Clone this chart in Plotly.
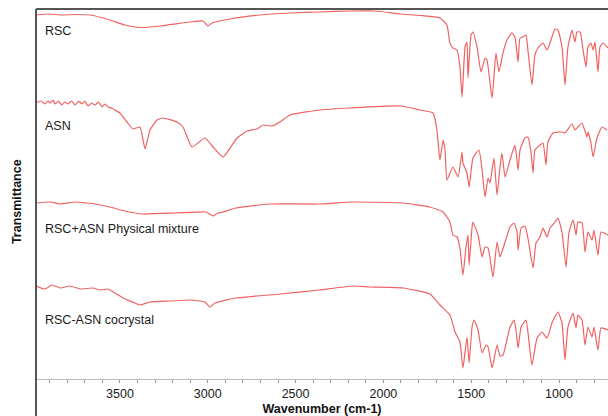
import plotly.graph_objects as go

# ---- data (wavenumber in cm-1, offset transmittance in arbitrary units) ----
rsc_wn = [3978, 3898, 3841, 3756, 3670, 3557, 3472, 3386, 3272, 3101, 3027, 2999, 2976, 2874, 2703,
          2532, 2361, 2190, 2048, 1905, 1791, 1678, 1638, 1621, 1604, 1581, 1564, 1552, 1535, 1524,
          1518, 1501, 1490, 1467, 1444, 1421, 1410, 1381, 1359, 1342, 1319, 1296, 1268, 1251, 1233,
          1222, 1205, 1188, 1177, 1154, 1137, 1120, 1091, 1068, 1040, 1023, 1006, 983, 966, 949,
          926, 909, 898, 880, 863, 846, 835, 818, 806, 795, 778, 767, 749, 721]
rsc_t = [364, 365, 364, 364.5, 364, 359, 354, 351.5, 353, 357, 358, 353, 356, 360, 364,
         366, 367, 368, 368, 365, 363.5, 361, 354, 336, 331, 329, 312, 282, 332, 337,
         301, 344, 347, 332, 307, 321, 319, 281, 326, 307, 326, 339, 346, 342, 317,
         341, 342, 344, 329, 294, 324, 331, 336, 329, 342, 350, 349, 332, 294, 332,
         349, 337, 347, 347, 329, 312, 332, 336, 329, 337, 307, 332, 336, 331]

asn_wn = [3978, 3950, 3927, 3910, 3898, 3880, 3870, 3850, 3830, 3815, 3796, 3776, 3756, 3736, 3716,
          3700, 3682, 3662, 3642, 3622, 3602, 3585, 3568, 3548, 3528, 3500, 3460,
          3426, 3386, 3357, 3329, 3289, 3255, 3175, 3141, 3090, 3016, 2970, 2913, 2833, 2776, 2720,
          2685, 2634, 2589, 2532, 2361, 2190, 1905, 1791, 1717, 1695, 1678, 1660, 1649, 1638, 1604,
          1575, 1552, 1547, 1524, 1512, 1490, 1456, 1438, 1421, 1404, 1393, 1370, 1353, 1336, 1325,
          1307, 1279, 1251, 1233, 1222, 1194, 1177, 1159, 1148, 1137, 1108, 1091, 1074, 1063, 1034,
          983, 966, 926, 909, 892, 869, 841, 835, 818, 806, 784, 755, 727]
asn_t = [276, 278, 275, 278, 276, 279, 275, 278, 274, 277, 275, 278, 274, 278, 275,
         278, 273, 276, 274, 277, 272, 275, 272, 271, 269, 266, 257,
         250, 252, 230, 249, 259, 261, 257, 252, 232, 241, 232, 222, 241, 248, 250,
         254, 253, 257, 264, 269, 271, 273, 269, 266, 249, 219, 239, 229, 199, 212,
         202, 227, 216, 206, 192, 221, 229, 209, 182, 201, 196, 221, 184, 212, 226,
         202, 219, 234, 209, 229, 241, 242, 226, 206, 229, 234, 236, 214, 237, 246,
         247, 246, 255, 249, 252, 256, 242, 247, 236, 222, 241, 252, 249]

mix_wn = [3978, 3898, 3841, 3756, 3693, 3642, 3557, 3472, 3369, 3181, 3016, 2999, 2970, 2942, 2913,
          2839, 2651, 2367, 2173, 1888, 1735, 1660, 1621, 1604, 1581, 1564, 1547, 1530, 1518, 1512,
          1495, 1490, 1461, 1438, 1421, 1404, 1376, 1353, 1336, 1307, 1279, 1256, 1239, 1233, 1216,
          1194, 1177, 1148, 1131, 1108, 1091, 1068, 1051, 1023, 1006, 983, 960, 943, 920, 903,
          892, 869, 852, 835, 812, 801, 778, 761, 721]
mix_t = [176, 177, 175, 177, 176, 175, 172, 168, 165, 166, 167, 166, 163, 166, 167,
         171, 175, 175, 177, 176, 172, 167, 157, 144, 142, 131, 104, 131, 144, 114,
         152, 157, 144, 122, 132, 131, 102, 137, 122, 137, 152, 156, 147, 129, 151,
         153, 141, 111, 136, 142, 151, 142, 151, 157, 161, 147, 112, 147, 159, 144,
         157, 156, 127, 147, 139, 149, 124, 147, 144]

coc_wn = [3978, 3927, 3887, 3841, 3784, 3727, 3653, 3614, 3568, 3528, 3483, 3415, 3386, 3329, 3215,
          3101, 3016, 2987, 2959, 2839, 2589, 2367, 2173, 2076, 1888, 1735, 1678, 1621, 1592, 1564,
          1547, 1524, 1512, 1495, 1484, 1461, 1438, 1416, 1404, 1381, 1353, 1336, 1319, 1279, 1256,
          1245, 1233, 1216, 1188, 1177, 1154, 1125, 1097, 1068, 1040, 1006, 983, 966, 949, 920,
          903, 892, 869, 852, 835, 812, 801, 778, 761, 721]
coc_t = [93, 90, 94, 91, 93, 90, 91, 89, 90, 86, 81, 76, 74, 77, 78,
         79, 77, 72, 76, 81, 85, 89, 93, 92, 91, 85, 74, 64, 47, 37,
         11, 42, 16, 52, 59, 49, 26, 34, 32, 11, 34, 23, 24, 52, 59,
         49, 31, 52, 59, 47, 14, 41, 47, 41, 56, 67, 56, 19, 52, 66,
         51, 64, 59, 34, 52, 42, 52, 29, 51, 49]

labels = ["RSC", "ASN", "RSC+ASN Physical mixture", "RSC-ASN cocrystal"]
label_y = [348, 253, 150, 59]
x_ticks = [3500, 3000, 2500, 2000, 1500, 1000]

series = [(rsc_wn, rsc_t), (asn_wn, asn_t), (mix_wn, mix_t), (coc_wn, coc_t)]

FONT = "Liberation Sans, Arial, Helvetica, sans-serif"
LINE = "#f06262"

fig = go.Figure()
for (wn, t), name in zip(series, labels):
    fig.add_trace(go.Scatter(x=wn, y=t, mode="lines", name=name,
                             line=dict(color=LINE, width=1.2, shape="spline", smoothing=0.45),
                             showlegend=False, hoverinfo="skip"))

for name, ly in zip(labels, label_y):
    fig.add_annotation(x=3940, y=ly, text=name, showarrow=False, xref="x", yref="y",
                       xanchor="left", yanchor="middle",
                       font=dict(family=FONT, size=12.5, color="#1a1a1a"))

fig.add_annotation(x=-0.032, y=0.48, xref="paper", yref="paper", text="<b>Transmittance</b>",
                   textangle=-90, showarrow=False, xanchor="center", yanchor="middle",
                   font=dict(family=FONT, size=12.5, color="#111"))

# frame lines: left axis (extends to bottom of figure) and top line
fig.add_shape(type="line", xref="paper", yref="paper", x0=0, x1=0, y0=-0.1, y1=1.0,
              line=dict(color="#555", width=2))
fig.add_shape(type="line", xref="paper", yref="paper", x0=0, x1=1.0, y0=1.0, y1=1.0,
              line=dict(color="#555", width=2))

fig.update_layout(
    width=608, height=416,
    margin=dict(l=36, r=0, t=9, b=37),
    paper_bgcolor="white", plot_bgcolor="white",
    font=dict(family=FONT, size=12.5, color="#1a1a1a"),
    xaxis=dict(range=[3978, 721], tickvals=x_ticks, ticktext=[str(v) for v in x_ticks],
               showgrid=False, zeroline=False, showline=True, linecolor="#bbbbbb", linewidth=1,
               ticks="outside", ticklen=3, tickcolor="#999", tickwidth=1,
               minor=dict(tickmode="linear", tick0=0, dtick=100, ticks="outside",
                          ticklen=3, tickcolor="#999", showgrid=False),
               title=dict(text="<b>Wavenumber (cm-1)</b>", standoff=4,
                          font=dict(family=FONT, size=12.5, color="#111")),
               tickfont=dict(family=FONT, size=12.5, color="#1a1a1a")),
    yaxis=dict(range=[0, 370], showticklabels=False, showgrid=False, zeroline=False,
               showline=False, ticks=""),
)

fig.write_html("out.html")
